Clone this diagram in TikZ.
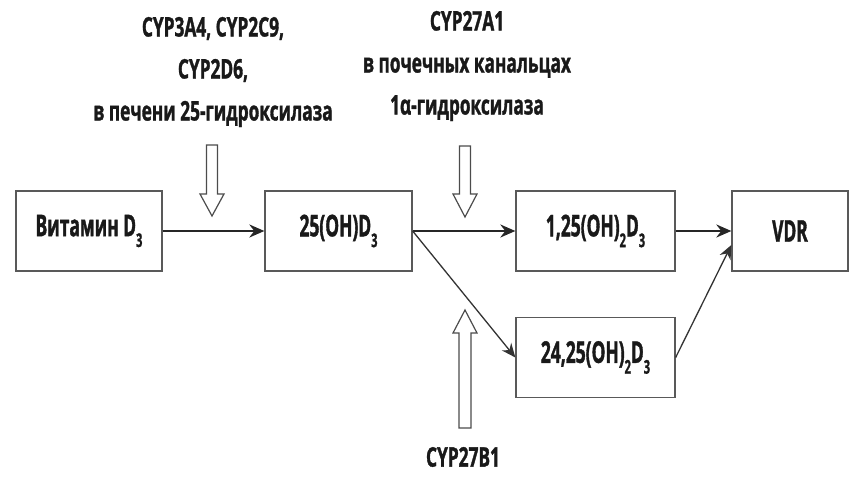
\documentclass[tikz,border=0pt]{standalone}
\usepackage{fontspec}
\usetikzlibrary{arrows.meta}
\setmainfont{Open Sans}[FakeStretch=0.64, BoldFeatures={FakeBold=1.2}]
\newfontfamily\boxfont{Open Sans}[FakeStretch=0.58, BoldFeatures={FakeBold=1.2}]
\newcommand\lowsub[1]{\raisebox{-0.36em}{\fontsize{19}{19}\selectfont #1}}
\begin{document}
\begin{tikzpicture}[x=1pt,y=-1pt,
  box/.style={draw=black!65, line width=1.3pt, minimum height=80pt, inner sep=0pt,
    text=black!90, font=\boxfont\fontsize{30}{32}\selectfont\bfseries},
  lab/.style={align=center, text=black!90, font=\fontsize{27}{42}\selectfont\bfseries},
  conn/.style={-{Stealth[length=15pt,width=13pt]}, line width=2.2pt, draw=black!85},
  thinconn/.style={-{Stealth[length=14pt,width=12pt]}, line width=1.3pt, draw=black!80},
  hollow/.style={draw=black!70, line width=1.2pt, fill=white, line join=miter}]
\useasboundingbox (0,0) rectangle (865,478);
\node[box, minimum width=146pt] (b1) at (89,231) {Витамин D\lowsub{3}};
\node[box, minimum width=147pt] (b2) at (338.5,231) {25(OH)D\lowsub{3}};
\node[box, minimum width=159pt] (b3) at (595.5,231) {1,25(OH)\lowsub{2}D\lowsub{3}};
\node[box, minimum width=116pt] (vdr) at (790,231) {VDR};
\node[box, minimum width=159pt] (b4) at (595.5,357.5) {24,25(OH)\lowsub{2}D\lowsub{3}};
\draw[conn] (b1.east) -- (b2.west);
\draw[conn] (b2.east) -- (b3.west);
\draw[conn] (b3.east) -- (vdr.west);
\draw[thinconn] (b2.east) -- (b4.west);
\draw[thinconn] (b4.east) -- ([yshift=-14pt]vdr.west);
\node[lab] (l1) at (213,72) {CYP3A4, CYP2C9,\\CYP2D6,\\в печени 25-гидроксилаза};
\node[lab] (l2) at (467,66) {CYP27A1\\в почечных канальцах\\1α-гидроксилаза};
\node[lab] (l3) at (463,457) {CYP27B1};
\coordinate (h1) at (212,216);
\coordinate (h2) at (465,217);
\coordinate (h3) at (465,310);
\draw[hollow, shift={(h1)}] (-5.5,-71) -- (5.5,-71) -- (5.5,-22) -- (12,-22) -- (0,0) -- (-12,-22) -- (-5.5,-22) -- cycle;
\draw[hollow, shift={(h2)}] (-5.5,-71) -- (5.5,-71) -- (5.5,-23) -- (12,-23) -- (0,0) -- (-12,-23) -- (-5.5,-23) -- cycle;
\draw[hollow, shift={(h3)}] (-6,118) -- (6,118) -- (6,23) -- (12,23) -- (0,0) -- (-12,23) -- (-6,23) -- cycle;
\end{tikzpicture}
\end{document}
